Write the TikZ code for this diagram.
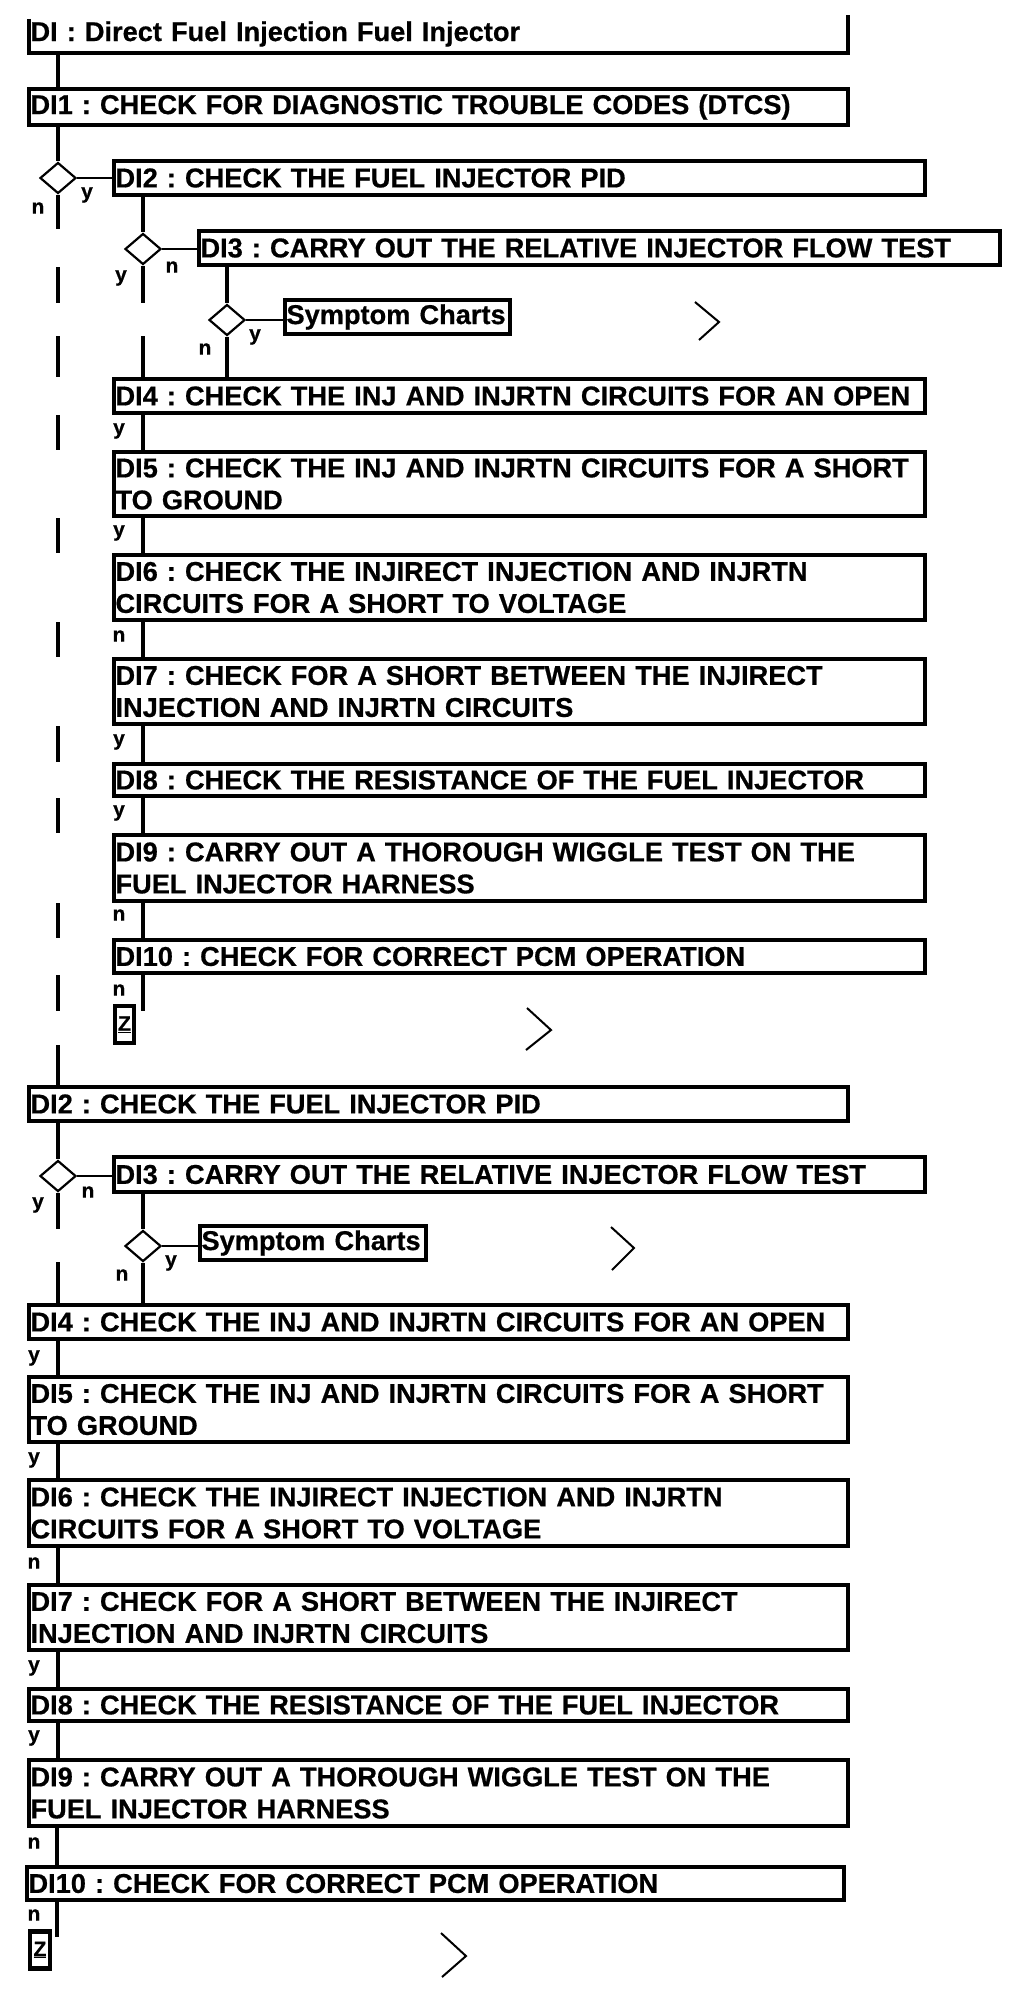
\documentclass[tikz,border=0pt]{standalone}
\usepackage{fontspec}
\setmainfont{Liberation Sans}[BoldFeatures={FakeBold=0.6}]
\usetikzlibrary{shapes.geometric}
\frenchspacing
\newcommand\boxfnt{\fontsize{27.2pt}{32pt}\selectfont\bfseries\frenchspacing}
\newcommand\lblfnt{\fontsize{21pt}{24pt}\selectfont\bfseries}
\newcommand\zfnt{\fontsize{21pt}{24pt}\selectfont\bfseries}
\begin{document}
\begin{tikzpicture}[x=1pt,y=-1pt,
  box/.style={draw, line width=4pt, inner xsep=1.5pt, inner ysep=0pt, font=\boxfnt, align=left},
  outerbox/.style={box, minimum width=819pt, text width=816pt},
  innerbox/.style={box, minimum width=811pt, text width=808pt},
  conn/.style={line width=4.5pt},
  hconn/.style={line width=2.5pt},
  dia/.style={draw, diamond, line width=2.2pt, minimum width=36pt, minimum height=31pt, inner sep=0pt},
  lbl/.style={font=\lblfnt, inner sep=0pt},
  zbox/.style={draw, line width=4.5pt, inner sep=0pt, font=\zfnt},
  chev/.style={line width=2pt}]
\useasboundingbox[fill=white] (0,0) rectangle (1024,1992);

% ---------- first block ----------
\node[minimum width=819pt, minimum height=38pt, inner xsep=1.5pt, inner ysep=0pt, font=\boxfnt, text width=816pt, align=left] (DI) at (438.5,34) {DI : Direct Fuel Injection Fuel Injector};
\draw[line width=4pt] ([yshift=-4pt]DI.north west) -- (DI.south west) -- (DI.south east) -- (DI.north east);

\node[outerbox, minimum height=36pt] (A1) at (438.5,107) {DI1 : CHECK FOR DIAGNOSTIC TROUBLE CODES (DTCS)};
\node[dia] (D1) at (58,178) {};
\node[innerbox, minimum height=34pt] (A2) at (519.5,178) {DI2 : CHECK THE FUEL INJECTOR PID};
\node[dia] (D2) at (143,249) {};
\node[box, minimum width=801pt, text width=798pt, minimum height=34pt] (A3) at (599.5,248) {DI3 : CARRY OUT THE RELATIVE INJECTOR FLOW TEST};
\node[dia] (D3) at (227,320) {};
\node[box, minimum width=225pt, minimum height=34pt, text width=222pt] (S1) at (397.5,317) {Symptom Charts};
\node[innerbox, minimum height=34pt] (A4) at (519.5,396) {DI4 : CHECK THE INJ AND INJRTN CIRCUITS FOR AN OPEN};
\node[innerbox, minimum height=64pt] (A5) at (519.5,484) {DI5 : CHECK THE INJ AND INJRTN CIRCUITS FOR A SHORT\\TO GROUND};
\node[innerbox, minimum height=65pt] (A6) at (519.5,587.5) {DI6 : CHECK THE INJIRECT INJECTION AND INJRTN\\CIRCUITS FOR A SHORT TO VOLTAGE};
\node[innerbox, minimum height=65pt] (A7) at (519.5,691.5) {DI7 : CHECK FOR A SHORT BETWEEN THE INJIRECT\\INJECTION AND INJRTN CIRCUITS};
\node[innerbox, minimum height=32pt] (A8) at (519.5,780) {DI8 : CHECK THE RESISTANCE OF THE FUEL INJECTOR};
\node[innerbox, minimum height=66pt] (A9) at (519.5,868) {DI9 : CARRY OUT A THOROUGH WIGGLE TEST ON THE\\FUEL INJECTOR HARNESS};
\node[innerbox, minimum height=33pt] (A10) at (519.5,956.5) {DI10 : CHECK FOR CORRECT PCM OPERATION};
\node[zbox, minimum width=19pt, minimum height=37pt] (Z1) at (124.5,1024.5) {\underline{Z}};
\coordinate (E1) at (143,1011);

% ---------- second block nodes ----------
\node[outerbox, minimum height=34pt] (B2) at (438.5,1104) {DI2 : CHECK THE FUEL INJECTOR PID};
\node[dia] (D4) at (58,1176) {};
\node[innerbox, minimum height=35pt] (B3) at (519.5,1174.5) {DI3 : CARRY OUT THE RELATIVE INJECTOR FLOW TEST};
\node[dia] (D5) at (143,1246) {};
\node[box, minimum width=226pt, minimum height=34pt, text width=223pt] (S2) at (313,1243) {Symptom Charts};
\node[outerbox, minimum height=34pt] (B4) at (438.5,1322) {DI4 : CHECK THE INJ AND INJRTN CIRCUITS FOR AN OPEN};
\node[outerbox, minimum height=65pt] (B5) at (438.5,1409.5) {DI5 : CHECK THE INJ AND INJRTN CIRCUITS FOR A SHORT\\TO GROUND};
\node[outerbox, minimum height=66pt] (B6) at (438.5,1513) {DI6 : CHECK THE INJIRECT INJECTION AND INJRTN\\CIRCUITS FOR A SHORT TO VOLTAGE};
\node[outerbox, minimum height=65pt] (B7) at (438.5,1617.5) {DI7 : CHECK FOR A SHORT BETWEEN THE INJIRECT\\INJECTION AND INJRTN CIRCUITS};
\node[outerbox, minimum height=32pt] (B8) at (438.5,1705) {DI8 : CHECK THE RESISTANCE OF THE FUEL INJECTOR};
\node[outerbox, minimum height=66pt] (B9) at (438.5,1793) {DI9 : CARRY OUT A THOROUGH WIGGLE TEST ON THE\\FUEL INJECTOR HARNESS};
\node[box, minimum width=817pt, text width=814pt, minimum height=33pt] (B10) at (435.5,1883.5) {DI10 : CHECK FOR CORRECT PCM OPERATION};
\node[zbox, minimum width=20pt, minimum height=37pt] (Z2) at (40,1950) {\underline{Z}};
\coordinate (E2) at (57,1937);

% connectors first block, x=58
\draw[conn] (DI.south -| D1) -- (A1.north -| D1);
\draw[conn] (A1.south -| D1) -- (D1.north);
\draw[conn] (D1.south) -- (D1 |- A3.north);
\draw[conn] (D1 |- A3.south) -- (D1 |- D3.north);
\draw[conn] (D1 |- S1.south) -- (D1 |- A4.north);
\draw[conn] (D1 |- A4.south) -- (D1 |- A5.north);
\draw[conn] (D1 |- A5.south) -- (D1 |- A6.north);
\draw[conn] (D1 |- A6.south) -- (D1 |- A7.north);
\draw[conn] (D1 |- A7.south) -- (D1 |- A8.north);
\draw[conn] (D1 |- A8.south) -- (D1 |- A9.north);
\draw[conn] (D1 |- A9.south) -- (D1 |- A10.north);
\draw[conn] (D1 |- A10.south) -- (D1 |- E1);
\draw[conn] (D1 |- Z1.south) -- (D1 |- B2.north);
% x=143
\draw[hconn] (D1.east) -- (D1.east -| A2.west);
\draw[conn] (A2.south -| D2) -- (D2.north);
\draw[conn] (D2.south) -- (D2 |- D3.north);
\draw[conn] (D2 |- S1.south) -- (D2 |- A4.north);
\draw[conn] (A4.south -| D2) -- (A5.north -| D2);
\draw[conn] (A5.south -| D2) -- (A6.north -| D2);
\draw[conn] (A6.south -| D2) -- (A7.north -| D2);
\draw[conn] (A7.south -| D2) -- (A8.north -| D2);
\draw[conn] (A8.south -| D2) -- (A9.north -| D2);
\draw[conn] (A9.south -| D2) -- (A10.north -| D2);
\draw[conn] (A10.south -| D2) -- (E1);
% x=227
\draw[hconn] (D2.east) -- (D2.east -| A3.west);
\draw[conn] (A3.south -| D3) -- (D3.north);
\draw[conn] (D3.south) -- (D3 |- A4.north);
\draw[hconn] (D3.east) -- (D3.east -| S1.west);

% labels first block
\node[lbl] (l1y) at (87,195) {y};
\node[lbl] (l1n) at (38,208) {n};
\node[lbl] (l2n) at (172,267) {n};
\node[lbl] (l2y) at (121,278) {y};
\node[lbl] (l3y) at (255,337) {y};
\node[lbl] (l3n) at (205,349) {n};
\node[lbl] (l4) at (119,431) {y};
\node[lbl] (l5) at (119,533) {y};
\node[lbl] (l6) at (119,636) {n};
\node[lbl] (l7) at (119,742) {y};
\node[lbl] (l8) at (119,813) {y};
\node[lbl] (l9) at (119,915) {n};
\node[lbl] (l10) at (119,990) {n};

% chevrons
\draw[chev] (695,302) -- (719,322) -- (699,340);
\draw[chev] (527,1008) -- (551,1030) -- (526,1050);

% connectors second block
\draw[conn] (B2.south -| D4) -- (D4.north);
\draw[conn] (D4.south) -- (D4 |- D5.north);
\draw[conn] (D4 |- S2.south) -- (D4 |- B4.north);
\draw[conn] (B4.south -| D4) -- (B5.north -| D4);
\draw[conn] (B5.south -| D4) -- (B6.north -| D4);
\draw[conn] (B6.south -| D4) -- (B7.north -| D4);
\draw[conn] (B7.south -| D4) -- (B8.north -| D4);
\draw[conn] (B8.south -| D4) -- (B9.north -| D4);
\draw[conn] (B9.south -| E2) -- (B10.north -| E2);
\draw[conn] (B10.south -| E2) -- (E2);
\draw[hconn] (D4.east) -- (D4.east -| B3.west);
\draw[conn] (B3.south -| D5) -- (D5.north);
\draw[conn] (D5.south) -- (D5 |- B4.north);
\draw[hconn] (D5.east) -- (D5.east -| S2.west);

% labels second block
\node[lbl] (m4n) at (88,1192) {n};
\node[lbl] (m4y) at (38,1205) {y};
\node[lbl] (m5y) at (171,1263) {y};
\node[lbl] (m5n) at (122,1275) {n};
\node[lbl] (k4) at (34,1358) {y};
\node[lbl] (k5) at (34,1460) {y};
\node[lbl] (k6) at (34,1563) {n};
\node[lbl] (k7) at (34,1668) {y};
\node[lbl] (k8) at (34,1738) {y};
\node[lbl] (k9) at (34,1843) {n};
\node[lbl] (k10) at (34,1915) {n};

\draw[chev] (611,1227) -- (634,1248) -- (612,1270);
\draw[chev] (441,1933) -- (466,1956) -- (442,1977);
\end{tikzpicture}
\end{document}
